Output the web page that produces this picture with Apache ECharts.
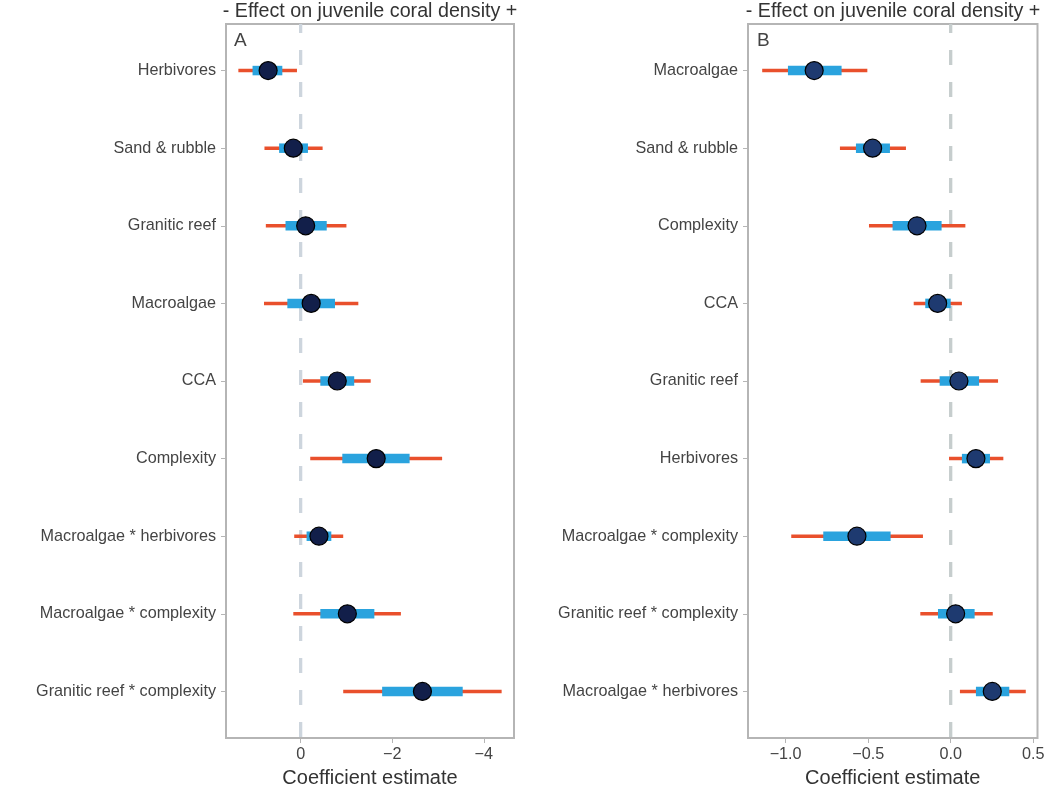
<!DOCTYPE html>
<html>
<head>
<meta charset="utf-8">
<script src="https://cdn.jsdelivr.net/npm/echarts@6/dist/echarts.min.js"></script>
<style>
html,body{margin:0;padding:0;background:#fff;}
#chart{width:1050px;height:800px;}
</style>
</head>
<body>
<div id="chart"></div>
<script>
// Panel A
const catsA = ['Herbivores','Sand & rubble','Granitic reef','Macroalgae','CCA','Complexity','Macroalgae * herbivores','Macroalgae * complexity','Granitic reef * complexity'];
const estA = [0.71, 0.16, -0.11, -0.23, -0.80, -1.65, -0.40, -1.02, -2.66];
const outerLoA = [0.08, -0.48, -1.00, -1.26, -1.53, -3.09, -0.93, -2.19, -4.39];
const outerHiA = [1.36, 0.79, 0.76, 0.80, -0.05, -0.21, 0.14, 0.16, -0.93];
const innerLoA = [0.40, -0.16, -0.57, -0.75, -1.17, -2.38, -0.67, -1.61, -3.54];
const innerHiA = [1.05, 0.47, 0.33, 0.29, -0.43, -0.91, -0.13, -0.43, -1.78];
const ticksA = [0, -2, -4];

// Panel B
const catsB = ['Macroalgae','Sand & rubble','Complexity','CCA','Granitic reef','Herbivores','Macroalgae * complexity','Granitic reef * complexity','Macroalgae * herbivores'];
const estB = [-0.827, -0.473, -0.204, -0.079, 0.050, 0.153, -0.568, 0.030, 0.252];
const outerLoB = [-1.142, -0.671, -0.495, -0.224, -0.182, -0.010, -0.966, -0.184, 0.056];
const outerHiB = [-0.505, -0.271, 0.089, 0.068, 0.287, 0.319, -0.168, 0.255, 0.455];
const innerLoB = [-0.986, -0.574, -0.352, -0.154, -0.067, 0.068, -0.772, -0.077, 0.153];
const innerHiB = [-0.661, -0.368, -0.055, 0.000, 0.172, 0.238, -0.364, 0.145, 0.355];
const ticksB = [-1.0, -0.5, 0.0, 0.5];

const titleText = '- Effect on juvenile coral density +';
const FONT = '"Liberation Sans", Arial, sans-serif';
const RED = '#e9502c', BLUE = '#2aa3de';

function rows(cats, est, olo, ohi, ilo, ihi){
  return cats.map((c,i)=>[i, est[i], olo[i], ohi[i], ilo[i], ihi[i]]);
}
function makeRender(fillColor){
  return function(params, api){
    const y = api.value(0);
    const o1 = api.coord([api.value(2), y]);
    const o2 = api.coord([api.value(3), y]);
    const i1 = api.coord([api.value(4), y]);
    const i2 = api.coord([api.value(5), y]);
    const p = api.coord([api.value(1), y]);
    const h = 9.5;
    return {type:'group', children:[
      {type:'line', shape:{x1:o1[0], y1:o1[1], x2:o2[0], y2:o2[1]}, style:{stroke:RED, lineWidth:3.5}},
      {type:'rect', shape:{x:Math.min(i1[0],i2[0]), y:p[1]-h/2, width:Math.abs(i2[0]-i1[0]), height:h}, style:{fill:BLUE}},
      {type:'circle', shape:{cx:p[0], cy:p[1], r:9}, style:{fill:fillColor, stroke:'#000', lineWidth:1.2}}
    ]};
  };
}
function fmtMinus(v, dec){
  const s = dec ? Math.abs(v).toFixed(dec) : String(Math.abs(v));
  return (v < 0 ? '\u2212' : '') + s;
}
function yAxisFor(cats, gi){
  return {
    type:'value', gridIndex:gi, min:-0.6, max:8.6, inverse:true, position:'left',
    axisLine:{show:false, onZero:false},
    splitLine:{show:false},
    axisTick:{show:true, length:5, customValues:[0,1,2,3,4,5,6,7,8], lineStyle:{color:'#b5b5b5', width:1}},
    axisLabel:{customValues:[0,1,2,3,4,5,6,7,8], formatter:(v)=>cats[Math.round(v)], fontSize:16.2, color:'#444', fontFamily:FONT, margin:10}
  };
}
function xAxisFor(gi, min, max, ticks, inverse, dec){
  return {
    type:'value', gridIndex:gi, min:min, max:max, inverse:inverse, position:'bottom',
    name:'Coefficient estimate', nameLocation:'middle', nameGap:30,
    nameTextStyle:{fontSize:20, color:'#333', fontFamily:FONT},
    axisLine:{show:false, onZero:false},
    splitLine:{show:false},
    axisTick:{show:true, length:5, customValues:ticks, lineStyle:{color:'#b5b5b5', width:1}},
    axisLabel:{customValues:ticks, formatter:(v)=>fmtMinus(v, dec), fontSize:16.2, color:'#444', fontFamily:FONT, margin:9}
  };
}
function zeroLine(gi, color){
  return {
    type:'line', xAxisIndex:gi, yAxisIndex:gi, data:[[0,-0.6],[0,8.6]], symbol:'none', silent:true, z:1,
    lineStyle:{color:color, width:3.3, type:[15,17], dashOffset:6}
  };
}

const chart = echarts.init(document.getElementById('chart'), null, {renderer:'canvas'});
chart.setOption({
  backgroundColor:'#fff',
  animation:false,
  grid:[
    {left:226, right:536, top:24, bottom:62, show:true, borderColor:'#b5b5b5', borderWidth:2, backgroundColor:'transparent'},
    {left:748, right:12.5, top:24, bottom:62, show:true, borderColor:'#b5b5b5', borderWidth:2, backgroundColor:'transparent'}
  ],
  xAxis:[
    xAxisFor(0, -4.66, 1.63, ticksA, true, 0),
    xAxisFor(1, -1.228, 0.526, ticksB, false, 1)
  ],
  yAxis:[ yAxisFor(catsA, 0), yAxisFor(catsB, 1) ],
  graphic:[
    {type:'text', x:370, y:2, style:{text:titleText, fontSize:19.7, fill:'#333', fontFamily:FONT, align:'center', verticalAlign:'top'}},
    {type:'text', x:893, y:2, style:{text:titleText, fontSize:19.7, fill:'#333', fontFamily:FONT, align:'center', verticalAlign:'top'}},
    {type:'text', x:234, y:31, style:{text:'A', fontSize:19, fill:'#444', fontFamily:FONT, align:'left', verticalAlign:'top'}},
    {type:'text', x:757, y:31, style:{text:'B', fontSize:19, fill:'#444', fontFamily:FONT, align:'left', verticalAlign:'top'}}
  ],
  series:[
    zeroLine(0, '#cdd5dd'),
    zeroLine(1, '#c6cdcd'),
    {type:'custom', xAxisIndex:0, yAxisIndex:0, z:5, renderItem:makeRender('#121f4a'),
     encode:{x:[1,2,3,4,5], y:0}, data:rows(catsA, estA, outerLoA, outerHiA, innerLoA, innerHiA)},
    {type:'custom', xAxisIndex:1, yAxisIndex:1, z:5, renderItem:makeRender('#1e3a70'),
     encode:{x:[1,2,3,4,5], y:0}, data:rows(catsB, estB, outerLoB, outerHiB, innerLoB, innerHiB)}
  ]
});
</script>
</body>
</html>
